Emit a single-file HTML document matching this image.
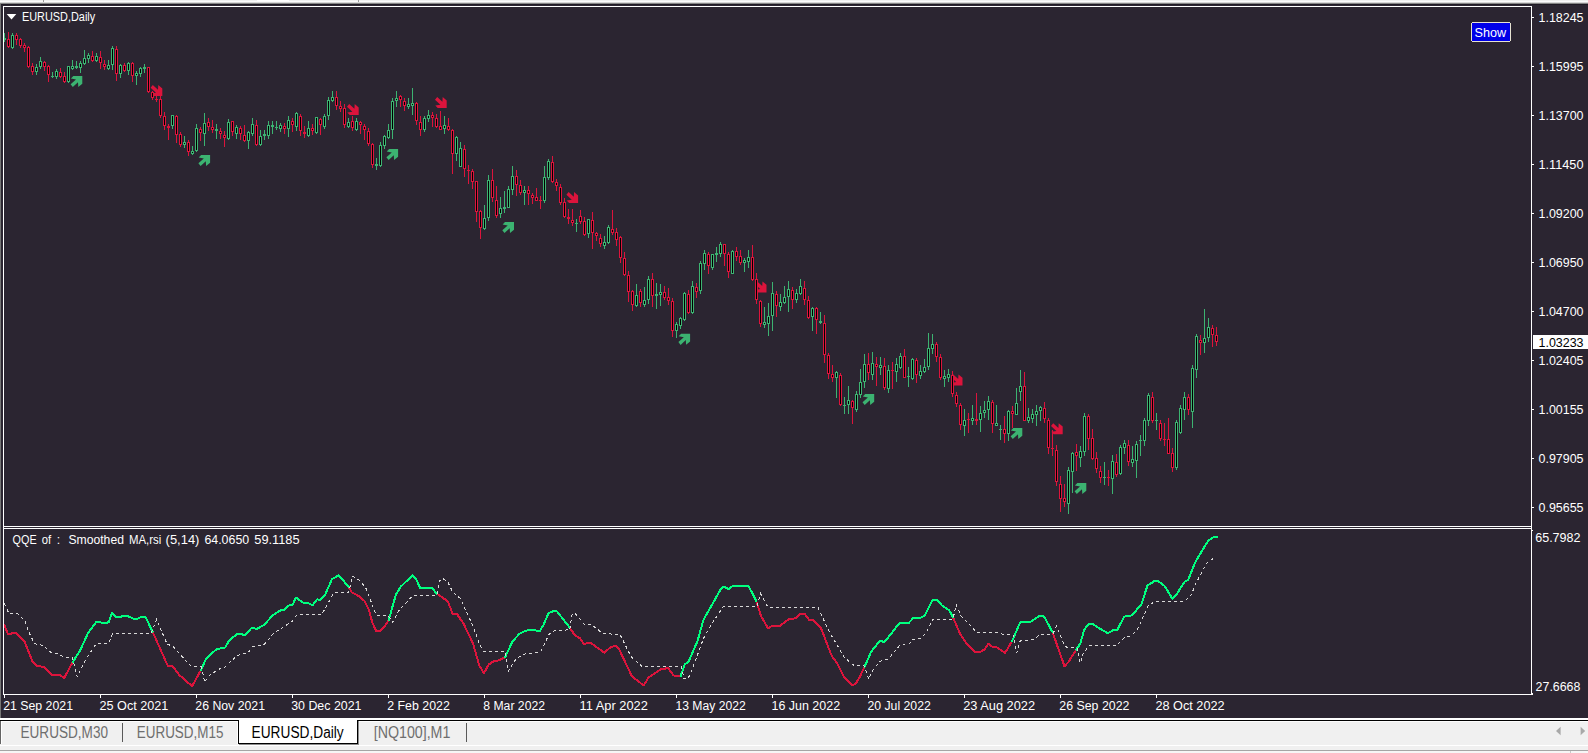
<!DOCTYPE html>
<html lang="en"><head><meta charset="utf-8"><title>EURUSD,Daily</title>
<style>html,body{margin:0;padding:0;background:#f0f0f0;overflow:hidden}svg{display:block}text{font-family:"Liberation Sans",sans-serif}</style>
</head><body>
<svg width="1588" height="753" viewBox="0 0 1588 753">
<rect x="0" y="0" width="1588" height="718" fill="#2b2531"/>
<g shape-rendering="crispEdges">
<rect x="0" y="0" width="1588" height="1" fill="#f0f0f0"/>
<rect x="0" y="1" width="1588" height="1" fill="#fbfbfb"/>
<rect x="0" y="2" width="1588" height="1" fill="#d6d6d6"/>
<rect x="0" y="3" width="1588" height="1" fill="#848484"/>
<rect x="0" y="4" width="1588" height="1" fill="#1f1a25"/>
<rect x="257" y="0" width="32" height="1" fill="#ffffff"/>
<rect x="43" y="0" width="1" height="2" fill="#9a9a9a"/>
<rect x="358" y="0" width="1" height="2" fill="#9a9a9a"/>
<rect x="0" y="4" width="1" height="714" fill="#757575"/>
</g>
<path fill="#3cb371" d="M73.3 76.0L82.3 76.0L82.3 83.7L78.3 87.0L78.0 82.3L72.8 87.1L70.6 84.3L76.0 79.4L70.9 78.5zM201.1 155.0L210.1 155.0L210.1 162.7L206.1 166.0L205.8 161.3L200.6 166.1L198.4 163.3L203.8 158.4L198.7 157.5zM389.1 149.0L398.1 149.0L398.1 156.7L394.1 160.0L393.8 155.3L388.6 160.1L386.4 157.3L391.8 152.4L386.7 151.5zM505.0 222.0L514.0 222.0L514.0 229.7L510.0 233.0L509.7 228.3L504.5 233.1L502.3 230.3L507.7 225.4L502.6 224.5zM681.1 333.8L690.1 333.8L690.1 341.5L686.1 344.8L685.8 340.1L680.6 344.9L678.4 342.1L683.8 337.2L678.7 336.3zM865.2 394.0L874.2 394.0L874.2 401.7L870.2 405.0L869.9 400.3L864.7 405.1L862.5 402.3L867.9 397.4L862.8 396.5zM1013.3 428.0L1022.3 428.0L1022.3 435.7L1018.3 439.0L1018.0 434.3L1012.8 439.1L1010.6 436.3L1016.0 431.4L1010.9 430.5zM1077.3 483.0L1086.3 483.0L1086.3 490.7L1082.3 494.0L1082.0 489.3L1076.8 494.1L1074.6 491.3L1080.0 486.4L1074.9 485.5z"/>
<path fill="#dc143c" d="M153.3 96.1L162.3 96.1L162.3 88.4L158.3 85.1L158.0 89.8L152.8 85.0L150.6 87.8L156.0 92.7L150.9 93.6zM349.7 115.1L358.7 115.1L358.7 107.4L354.7 104.1L354.4 108.8L349.2 104.0L347.0 106.8L352.4 111.7L347.3 112.6zM437.7 108.1L446.7 108.1L446.7 100.4L442.7 97.1L442.4 101.8L437.2 97.0L435.0 99.8L440.4 104.7L435.3 105.6zM569.1 203.1L578.1 203.1L578.1 195.4L574.1 192.1L573.8 196.8L568.6 192.0L566.4 194.8L571.8 199.7L566.7 200.6zM757.5 292.4L766.5 292.4L766.5 284.7L762.5 281.4L762.2 286.1L757.0 281.3L754.8 284.1L760.2 289.0L755.1 289.9zM953.5 385.4L962.5 385.4L962.5 377.7L958.5 374.4L958.2 379.1L953.0 374.3L950.8 377.1L956.2 382.0L951.1 382.9zM1053.7 434.3L1062.7 434.3L1062.7 426.6L1058.7 423.3L1058.4 428.0L1053.2 423.2L1051.0 426.0L1056.4 430.9L1051.3 431.8z"/>
<g shape-rendering="crispEdges">
<path fill="#3cb371" d="M4 33h1v9h-1zM3 38h3v2h-3zM12 33h1v16h-1zM11 35h3v13h-3zM36 64h1v11h-1zM35 67h3v5h-3zM40 57h1v12h-1zM39 61h3v6h-3zM52 72h1v6h-1zM51 76h3v1h-3zM56 69h1v10h-1zM55 71h3v6h-3zM68 66h1v17h-1zM67 66h3v16h-3zM72 60h1v10h-1zM71 66h3v3h-3zM76 61h1v8h-1zM75 66h3v2h-3zM80 61h1v12h-1zM79 63h3v5h-3zM84 50h1v15h-1zM83 58h3v6h-3zM88 53h1v10h-1zM87 55h3v4h-3zM96 53h1v9h-1zM95 56h3v5h-3zM108 60h1v10h-1zM107 65h3v4h-3zM112 46h1v24h-1zM111 48h3v17h-3zM120 64h1v14h-1zM119 65h3v9h-3zM128 62h1v13h-1zM127 63h3v8h-3zM136 71h1v14h-1zM135 73h3v3h-3zM140 67h1v10h-1zM139 68h3v6h-3zM144 64h1v9h-1zM143 67h3v2h-3zM172 115h1v14h-1zM171 115h3v11h-3zM184 136h1v12h-1zM183 142h3v3h-3zM192 146h1v9h-1zM191 151h3v3h-3zM196 124h1v28h-1zM195 128h3v23h-3zM204 113h1v33h-1zM203 123h3v11h-3zM216 124h1v15h-1zM215 129h3v2h-3zM228 119h1v21h-1zM227 122h3v17h-3zM236 125h1v14h-1zM235 127h3v7h-3zM248 131h1v18h-1zM247 132h3v9h-3zM252 118h1v18h-1zM251 124h3v10h-3zM260 130h1v16h-1zM259 136h3v9h-3zM264 130h1v10h-1zM263 134h3v2h-3zM268 121h1v18h-1zM267 125h3v11h-3zM272 121h1v13h-1zM271 125h3v2h-3zM276 121h1v9h-1zM275 127h3v1h-3zM280 123h1v9h-1zM279 125h3v4h-3zM288 116h1v21h-1zM287 120h3v9h-3zM296 112h1v19h-1zM295 113h3v14h-3zM308 121h1v16h-1zM307 128h3v8h-3zM316 117h1v17h-1zM315 117h3v16h-3zM324 114h1v15h-1zM323 116h3v11h-3zM328 97h1v23h-1zM327 100h3v16h-3zM332 91h1v11h-1zM331 97h3v4h-3zM348 118h1v10h-1zM347 122h3v5h-3zM356 118h1v13h-1zM355 121h3v9h-3zM376 158h1v12h-1zM375 164h3v2h-3zM380 142h1v25h-1zM379 145h3v21h-3zM384 135h1v14h-1zM383 136h3v10h-3zM388 124h1v15h-1zM387 130h3v8h-3zM392 98h1v41h-1zM391 101h3v29h-3zM396 91h1v16h-1zM395 98h3v3h-3zM408 98h1v11h-1zM407 104h3v3h-3zM412 88h1v27h-1zM411 103h3v3h-3zM424 116h1v16h-1zM423 118h3v12h-3zM428 110h1v12h-1zM427 115h3v4h-3zM444 116h1v18h-1zM443 125h3v4h-3zM456 136h1v25h-1zM455 137h3v17h-3zM460 142h1v25h-1zM459 148h3v19h-3zM484 205h1v25h-1zM483 218h3v11h-3zM488 175h1v46h-1zM487 180h3v38h-3zM500 197h1v21h-1zM499 208h3v6h-3zM504 191h1v22h-1zM503 207h3v2h-3zM508 186h1v22h-1zM507 189h3v19h-3zM512 166h1v29h-1zM511 176h3v14h-3zM524 186h1v19h-1zM523 190h3v3h-3zM544 166h1v37h-1zM543 177h3v24h-3zM548 159h1v21h-1zM547 161h3v17h-3zM576 219h1v13h-1zM575 223h3v1h-3zM588 219h1v19h-1zM587 219h3v15h-3zM604 236h1v13h-1zM603 242h3v4h-3zM608 225h1v19h-1zM607 227h3v16h-3zM636 284h1v23h-1zM635 295h3v11h-3zM644 287h1v20h-1zM643 300h3v5h-3zM648 276h1v28h-1zM647 279h3v21h-3zM656 283h1v26h-1zM655 294h3v2h-3zM660 284h1v22h-1zM659 292h3v3h-3zM676 322h1v16h-1zM675 324h3v7h-3zM680 317h1v12h-1zM679 318h3v8h-3zM684 292h1v29h-1zM683 293h3v27h-3zM692 281h1v33h-1zM691 286h3v27h-3zM700 261h1v33h-1zM699 263h3v28h-3zM704 250h1v20h-1zM703 253h3v11h-3zM712 254h1v16h-1zM711 254h3v14h-3zM716 247h1v15h-1zM715 253h3v2h-3zM720 242h1v15h-1zM719 244h3v10h-3zM732 250h1v24h-1zM731 251h3v23h-3zM744 258h1v14h-1zM743 260h3v3h-3zM748 250h1v18h-1zM747 257h3v5h-3zM764 307h1v21h-1zM763 322h3v3h-3zM768 303h1v33h-1zM767 316h3v8h-3zM772 282h1v49h-1zM771 293h3v23h-3zM780 294h1v17h-1zM779 302h3v5h-3zM784 286h1v18h-1zM783 297h3v6h-3zM788 281h1v31h-1zM787 289h3v8h-3zM796 289h1v14h-1zM795 293h3v7h-3zM800 279h1v16h-1zM799 286h3v8h-3zM812 307h1v24h-1zM811 308h3v9h-3zM820 312h1v12h-1zM819 321h3v2h-3zM836 371h1v27h-1zM835 372h3v6h-3zM844 397h1v17h-1zM843 405h3v1h-3zM848 386h1v28h-1zM847 400h3v5h-3zM856 391h1v21h-1zM855 394h3v16h-3zM860 369h1v29h-1zM859 382h3v13h-3zM864 354h1v34h-1zM863 364h3v18h-3zM872 352h1v28h-1zM871 363h3v12h-3zM880 357h1v18h-1zM879 365h3v3h-3zM888 365h1v28h-1zM887 370h3v19h-3zM896 358h1v24h-1zM895 364h3v8h-3zM900 353h1v16h-1zM899 356h3v12h-3zM908 367h1v20h-1zM907 376h3v1h-3zM912 358h1v22h-1zM911 359h3v20h-3zM920 365h1v14h-1zM919 371h3v5h-3zM924 359h1v14h-1zM923 367h3v5h-3zM928 333h1v37h-1zM927 348h3v19h-3zM932 334h1v20h-1zM931 344h3v5h-3zM944 370h1v17h-1zM943 376h3v3h-3zM948 369h1v13h-1zM947 374h3v4h-3zM964 409h1v27h-1zM963 420h3v6h-3zM972 405h1v20h-1zM971 418h3v3h-3zM980 406h1v26h-1zM979 413h3v7h-3zM984 401h1v17h-1zM983 410h3v3h-3zM988 396h1v24h-1zM987 401h3v9h-3zM996 405h1v21h-1zM995 423h3v3h-3zM1000 425h1v15h-1zM999 429h3v1h-3zM1008 410h1v31h-1zM1007 411h3v23h-3zM1016 388h1v27h-1zM1015 403h3v12h-3zM1020 370h1v31h-1zM1019 386h3v6h-3zM1028 408h1v15h-1zM1027 417h3v4h-3zM1032 409h1v14h-1zM1031 414h3v5h-3zM1036 405h1v21h-1zM1035 411h3v4h-3zM1040 406h1v15h-1zM1039 407h3v4h-3zM1068 467h1v47h-1zM1067 470h3v34h-3zM1072 452h1v41h-1zM1071 453h3v19h-3zM1080 446h1v21h-1zM1079 451h3v7h-3zM1084 413h1v43h-1zM1083 416h3v36h-3zM1104 462h1v23h-1zM1103 477h3v1h-3zM1112 455h1v39h-1zM1111 461h3v18h-3zM1120 445h1v30h-1zM1119 447h3v27h-3zM1124 440h1v14h-1zM1123 443h3v5h-3zM1132 446h1v21h-1zM1131 459h3v4h-3zM1136 441h1v37h-1zM1135 444h3v17h-3zM1140 435h1v21h-1zM1139 440h3v1h-3zM1144 418h1v28h-1zM1143 420h3v21h-3zM1148 393h1v33h-1zM1147 395h3v26h-3zM1156 413h1v17h-1zM1155 420h3v1h-3zM1176 420h1v50h-1zM1175 422h3v46h-3zM1180 405h1v29h-1zM1179 408h3v25h-3zM1184 392h1v28h-1zM1183 397h3v13h-3zM1192 365h1v63h-1zM1191 368h3v44h-3zM1196 334h1v44h-1zM1195 336h3v34h-3zM1204 309h1v44h-1zM1203 338h3v5h-3zM1208 318h1v24h-1zM1207 327h3v11h-3z"/>
<path fill="#dc143c" d="M8 32h1v16h-1zM7 39h3v8h-3zM16 33h1v12h-1zM15 35h3v5h-3zM20 38h1v10h-1zM19 39h3v7h-3zM24 43h1v9h-1zM23 45h3v3h-3zM28 46h1v22h-1zM27 47h3v20h-3zM32 63h1v12h-1zM31 66h3v6h-3zM44 61h1v10h-1zM43 62h3v5h-3zM48 65h1v17h-1zM47 66h3v9h-3zM60 68h1v10h-1zM59 72h3v5h-3zM64 72h1v11h-1zM63 76h3v6h-3zM92 51h1v11h-1zM91 56h3v5h-3zM100 51h1v18h-1zM99 57h3v6h-3zM104 60h1v10h-1zM103 64h3v3h-3zM116 46h1v35h-1zM115 49h3v25h-3zM124 63h1v9h-1zM123 65h3v6h-3zM132 62h1v20h-1zM131 63h3v13h-3zM148 67h1v26h-1zM147 67h3v25h-3zM152 91h1v9h-1zM151 92h3v6h-3zM156 96h1v6h-1zM155 99h3v1h-3zM160 96h1v22h-1zM159 99h3v17h-3zM164 112h1v18h-1zM163 116h3v10h-3zM168 124h1v16h-1zM167 126h3v2h-3zM176 115h1v28h-1zM175 116h3v19h-3zM180 132h1v15h-1zM179 134h3v11h-3zM188 140h1v16h-1zM187 142h3v10h-3zM200 127h1v14h-1zM199 129h3v4h-3zM208 118h1v13h-1zM207 122h3v5h-3zM212 120h1v13h-1zM211 127h3v3h-3zM220 128h1v11h-1zM219 131h3v3h-3zM224 131h1v16h-1zM223 135h3v3h-3zM232 121h1v15h-1zM231 121h3v11h-3zM240 126h1v14h-1zM239 128h3v6h-3zM244 125h1v17h-1zM243 135h3v6h-3zM256 120h1v26h-1zM255 125h3v20h-3zM284 123h1v11h-1zM283 126h3v3h-3zM292 118h1v14h-1zM291 121h3v4h-3zM300 114h1v22h-1zM299 116h3v15h-3zM304 126h1v12h-1zM303 132h3v2h-3zM312 124h1v11h-1zM311 128h3v3h-3zM320 118h1v17h-1zM319 119h3v6h-3zM336 91h1v19h-1zM335 97h3v9h-3zM340 101h1v11h-1zM339 106h3v3h-3zM344 104h1v24h-1zM343 108h3v17h-3zM352 116h1v15h-1zM351 121h3v7h-3zM360 121h1v13h-1zM359 122h3v3h-3zM364 124h1v16h-1zM363 126h3v4h-3zM368 128h1v18h-1zM367 131h3v13h-3zM372 143h1v25h-1zM371 144h3v21h-3zM400 95h1v12h-1zM399 96h3v4h-3zM404 98h1v13h-1zM403 101h3v5h-3zM416 102h1v23h-1zM415 103h3v18h-3zM420 116h1v20h-1zM419 122h3v8h-3zM432 112h1v15h-1zM431 115h3v3h-3zM436 114h1v14h-1zM435 118h3v9h-3zM440 111h1v19h-1zM439 126h3v4h-3zM448 118h1v13h-1zM447 126h3v4h-3zM452 129h1v45h-1zM451 130h3v24h-3zM464 145h1v32h-1zM463 149h3v20h-3zM468 165h1v19h-1zM467 170h3v1h-3zM472 169h1v20h-1zM471 171h3v11h-3zM476 181h1v41h-1zM475 181h3v31h-3zM480 210h1v29h-1zM479 211h3v17h-3zM492 169h1v33h-1zM491 180h3v18h-3zM496 186h1v32h-1zM495 200h3v16h-3zM516 170h1v26h-1zM515 176h3v9h-3zM520 180h1v15h-1zM519 185h3v8h-3zM528 186h1v19h-1zM527 190h3v4h-3zM532 193h1v11h-1zM531 195h3v3h-3zM536 188h1v13h-1zM535 197h3v4h-3zM540 196h1v13h-1zM539 200h3v1h-3zM552 156h1v27h-1zM551 162h3v20h-3zM556 179h1v12h-1zM555 182h3v4h-3zM560 184h1v21h-1zM559 187h3v16h-3zM564 198h1v20h-1zM563 202h3v15h-3zM568 209h1v15h-1zM567 217h3v2h-3zM572 209h1v17h-1zM571 220h3v3h-3zM580 210h1v14h-1zM579 216h3v6h-3zM584 217h1v19h-1zM583 221h3v14h-3zM592 212h1v37h-1zM591 220h3v13h-3zM596 232h1v9h-1zM595 233h3v3h-3zM600 234h1v13h-1zM599 238h3v6h-3zM612 210h1v25h-1zM611 229h3v4h-3zM616 228h1v18h-1zM615 232h3v8h-3zM620 236h1v27h-1zM619 237h3v21h-3zM624 252h1v24h-1zM623 258h3v17h-3zM628 271h1v31h-1zM627 275h3v17h-3zM632 290h1v21h-1zM631 291h3v14h-3zM640 289h1v18h-1zM639 291h3v12h-3zM652 273h1v34h-1zM651 279h3v17h-3zM664 286h1v14h-1zM663 292h3v6h-3zM668 288h1v17h-1zM667 297h3v4h-3zM672 298h1v39h-1zM671 301h3v30h-3zM688 290h1v24h-1zM687 294h3v19h-3zM696 283h1v15h-1zM695 287h3v5h-3zM708 252h1v22h-1zM707 254h3v12h-3zM724 244h1v22h-1zM723 244h3v10h-3zM728 252h1v26h-1zM727 254h3v18h-3zM736 247h1v14h-1zM735 251h3v6h-3zM740 250h1v15h-1zM739 256h3v7h-3zM752 245h1v36h-1zM751 257h3v23h-3zM756 273h1v31h-1zM755 279h3v21h-3zM760 300h1v27h-1zM759 301h3v23h-3zM776 291h1v26h-1zM775 294h3v12h-3zM792 287h1v22h-1zM791 290h3v10h-3zM804 281h1v24h-1zM803 288h3v12h-3zM808 296h1v23h-1zM807 300h3v18h-3zM816 307h1v27h-1zM815 308h3v12h-3zM824 315h1v48h-1zM823 323h3v32h-3zM828 353h1v26h-1zM827 355h3v19h-3zM832 365h1v17h-1zM831 374h3v4h-3zM840 373h1v33h-1zM839 375h3v30h-3zM852 400h1v24h-1zM851 401h3v7h-3zM868 353h1v27h-1zM867 364h3v9h-3zM876 357h1v29h-1zM875 364h3v3h-3zM884 358h1v32h-1zM883 366h3v22h-3zM892 362h1v27h-1zM891 370h3v1h-3zM904 349h1v29h-1zM903 356h3v22h-3zM916 358h1v25h-1zM915 360h3v15h-3zM936 342h1v20h-1zM935 344h3v13h-3zM940 354h1v26h-1zM939 357h3v21h-3zM952 371h1v26h-1zM951 375h3v19h-3zM956 392h1v15h-1zM955 395h3v9h-3zM960 403h1v27h-1zM959 405h3v20h-3zM968 413h1v20h-1zM967 419h3v1h-3zM976 393h1v32h-1zM975 419h3v2h-3zM992 400h1v33h-1zM991 402h3v22h-3zM1004 416h1v27h-1zM1003 429h3v5h-3zM1012 406h1v22h-1zM1011 411h3v3h-3zM1024 372h1v49h-1zM1023 386h3v35h-3zM1044 402h1v21h-1zM1043 408h3v11h-3zM1048 418h1v36h-1zM1047 420h3v28h-3zM1052 430h1v26h-1zM1051 448h3v1h-3zM1056 445h1v41h-1zM1055 450h3v32h-3zM1060 476h1v36h-1zM1059 484h3v15h-3zM1064 484h1v23h-1zM1063 498h3v4h-3zM1076 444h1v27h-1zM1075 452h3v4h-3zM1088 414h1v36h-1zM1087 416h3v23h-3zM1092 429h1v31h-1zM1091 438h3v21h-3zM1096 452h1v21h-1zM1095 458h3v11h-3zM1100 466h1v17h-1zM1099 471h3v7h-3zM1108 470h1v16h-1zM1107 477h3v1h-3zM1116 454h1v23h-1zM1115 462h3v13h-3zM1128 440h1v26h-1zM1127 445h3v17h-3zM1152 392h1v31h-1zM1151 397h3v24h-3zM1160 420h1v21h-1zM1159 423h3v16h-3zM1164 423h1v23h-1zM1163 439h3v1h-3zM1168 418h1v36h-1zM1167 439h3v15h-3zM1172 448h1v24h-1zM1171 453h3v15h-3zM1188 394h1v21h-1zM1187 397h3v13h-3zM1200 335h1v20h-1zM1199 340h3v3h-3zM1212 325h1v22h-1zM1211 328h3v7h-3zM1216 327h1v19h-1zM1215 335h3v7h-3z"/>
<path fill="#000000" d="M8 40h1v6h-1zM12 36h1v11h-1zM16 36h1v3h-1zM20 40h1v5h-1zM24 46h1v1h-1zM28 48h1v18h-1zM32 67h1v4h-1zM36 68h1v3h-1zM40 62h1v4h-1zM44 63h1v3h-1zM48 67h1v7h-1zM56 72h1v4h-1zM60 73h1v3h-1zM64 77h1v4h-1zM68 67h1v14h-1zM72 67h1v1h-1zM80 64h1v3h-1zM84 59h1v4h-1zM88 56h1v2h-1zM92 57h1v3h-1zM96 57h1v3h-1zM100 58h1v4h-1zM104 65h1v1h-1zM108 66h1v2h-1zM112 49h1v15h-1zM116 50h1v23h-1zM120 66h1v7h-1zM124 66h1v4h-1zM128 64h1v6h-1zM132 64h1v11h-1zM136 74h1v1h-1zM140 69h1v4h-1zM148 68h1v23h-1zM152 93h1v4h-1zM160 100h1v15h-1zM164 117h1v8h-1zM172 116h1v9h-1zM176 117h1v17h-1zM180 135h1v9h-1zM184 143h1v1h-1zM188 143h1v8h-1zM192 152h1v1h-1zM196 129h1v21h-1zM200 130h1v2h-1zM204 124h1v9h-1zM208 123h1v3h-1zM212 128h1v1h-1zM220 132h1v1h-1zM224 136h1v1h-1zM228 123h1v15h-1zM232 122h1v9h-1zM236 128h1v5h-1zM240 129h1v4h-1zM244 136h1v4h-1zM248 133h1v7h-1zM252 125h1v8h-1zM256 126h1v18h-1zM260 137h1v7h-1zM268 126h1v9h-1zM280 126h1v2h-1zM284 127h1v1h-1zM288 121h1v7h-1zM292 122h1v2h-1zM296 114h1v12h-1zM300 117h1v13h-1zM308 129h1v6h-1zM312 129h1v1h-1zM316 118h1v14h-1zM320 120h1v4h-1zM324 117h1v9h-1zM328 101h1v14h-1zM332 98h1v2h-1zM336 98h1v7h-1zM340 107h1v1h-1zM344 109h1v15h-1zM348 123h1v3h-1zM352 122h1v5h-1zM356 122h1v7h-1zM360 123h1v1h-1zM364 127h1v2h-1zM368 132h1v11h-1zM372 145h1v19h-1zM380 146h1v19h-1zM384 137h1v8h-1zM388 131h1v6h-1zM392 102h1v27h-1zM396 99h1v1h-1zM400 97h1v2h-1zM404 102h1v3h-1zM408 105h1v1h-1zM412 104h1v1h-1zM416 104h1v16h-1zM420 123h1v6h-1zM424 119h1v10h-1zM428 116h1v2h-1zM432 116h1v1h-1zM436 119h1v7h-1zM440 127h1v2h-1zM444 126h1v2h-1zM448 127h1v2h-1zM452 131h1v22h-1zM456 138h1v15h-1zM460 149h1v17h-1zM464 150h1v18h-1zM472 172h1v9h-1zM476 182h1v29h-1zM480 212h1v15h-1zM484 219h1v9h-1zM488 181h1v36h-1zM492 181h1v16h-1zM496 201h1v14h-1zM500 209h1v4h-1zM508 190h1v17h-1zM512 177h1v12h-1zM516 177h1v7h-1zM520 186h1v6h-1zM524 191h1v1h-1zM528 191h1v2h-1zM532 196h1v1h-1zM536 198h1v2h-1zM544 178h1v22h-1zM548 162h1v15h-1zM552 163h1v18h-1zM556 183h1v2h-1zM560 188h1v14h-1zM564 203h1v13h-1zM572 221h1v1h-1zM580 217h1v4h-1zM584 222h1v12h-1zM588 220h1v13h-1zM592 221h1v11h-1zM596 234h1v1h-1zM600 239h1v4h-1zM604 243h1v2h-1zM608 228h1v14h-1zM612 230h1v2h-1zM616 233h1v6h-1zM620 238h1v19h-1zM624 259h1v15h-1zM628 276h1v15h-1zM632 292h1v12h-1zM636 296h1v9h-1zM640 292h1v10h-1zM644 301h1v3h-1zM648 280h1v19h-1zM652 280h1v15h-1zM660 293h1v1h-1zM664 293h1v4h-1zM668 298h1v2h-1zM672 302h1v28h-1zM676 325h1v5h-1zM680 319h1v6h-1zM684 294h1v25h-1zM688 295h1v17h-1zM692 287h1v25h-1zM696 288h1v3h-1zM700 264h1v26h-1zM704 254h1v9h-1zM708 255h1v10h-1zM712 255h1v12h-1zM720 245h1v8h-1zM724 245h1v8h-1zM728 255h1v16h-1zM732 252h1v21h-1zM736 252h1v4h-1zM740 257h1v5h-1zM744 261h1v1h-1zM748 258h1v3h-1zM752 258h1v21h-1zM756 280h1v19h-1zM760 302h1v21h-1zM764 323h1v1h-1zM768 317h1v6h-1zM772 294h1v21h-1zM776 295h1v10h-1zM780 303h1v3h-1zM784 298h1v4h-1zM788 290h1v6h-1zM792 291h1v8h-1zM796 294h1v5h-1zM800 287h1v6h-1zM804 289h1v10h-1zM808 301h1v16h-1zM812 309h1v7h-1zM816 309h1v10h-1zM824 324h1v30h-1zM828 356h1v17h-1zM832 375h1v2h-1zM836 373h1v4h-1zM840 376h1v28h-1zM848 401h1v3h-1zM852 402h1v5h-1zM856 395h1v14h-1zM860 383h1v11h-1zM864 365h1v16h-1zM868 365h1v7h-1zM872 364h1v10h-1zM876 365h1v1h-1zM880 366h1v1h-1zM884 367h1v20h-1zM888 371h1v17h-1zM896 365h1v6h-1zM900 357h1v10h-1zM904 357h1v20h-1zM912 360h1v18h-1zM916 361h1v13h-1zM920 372h1v3h-1zM924 368h1v3h-1zM928 349h1v17h-1zM932 345h1v3h-1zM936 345h1v11h-1zM940 358h1v19h-1zM944 377h1v1h-1zM948 375h1v2h-1zM952 376h1v17h-1zM956 396h1v7h-1zM960 406h1v18h-1zM964 421h1v4h-1zM972 419h1v1h-1zM980 414h1v5h-1zM984 411h1v1h-1zM988 402h1v7h-1zM992 403h1v20h-1zM996 424h1v1h-1zM1004 430h1v3h-1zM1008 412h1v21h-1zM1012 412h1v1h-1zM1016 404h1v10h-1zM1020 387h1v4h-1zM1024 387h1v33h-1zM1028 418h1v2h-1zM1032 415h1v3h-1zM1036 412h1v2h-1zM1040 408h1v2h-1zM1044 409h1v9h-1zM1048 421h1v26h-1zM1056 451h1v30h-1zM1060 485h1v13h-1zM1064 499h1v2h-1zM1068 471h1v32h-1zM1072 454h1v17h-1zM1076 453h1v2h-1zM1080 452h1v5h-1zM1084 417h1v34h-1zM1088 417h1v21h-1zM1092 439h1v19h-1zM1096 459h1v9h-1zM1100 472h1v5h-1zM1112 462h1v16h-1zM1116 463h1v11h-1zM1120 448h1v25h-1zM1124 444h1v3h-1zM1128 446h1v15h-1zM1132 460h1v2h-1zM1136 445h1v15h-1zM1144 421h1v19h-1zM1148 396h1v24h-1zM1152 398h1v22h-1zM1160 424h1v14h-1zM1168 440h1v13h-1zM1172 454h1v13h-1zM1176 423h1v44h-1zM1180 409h1v23h-1zM1184 398h1v11h-1zM1188 398h1v11h-1zM1192 369h1v42h-1zM1196 337h1v32h-1zM1200 341h1v1h-1zM1204 339h1v3h-1zM1208 328h1v9h-1zM1212 329h1v5h-1zM1216 336h1v5h-1z"/>
</g>
<g fill="none" stroke-width="2" stroke-linejoin="round" stroke-linecap="round" shape-rendering="crispEdges">
<path stroke="#dc143c" d="M4.4 624.8L7.9 634.2L15.7 632.7L24.4 641.3L32.3 661.0L36.2 665.7L44.1 667.0L52.0 674.9L59.8 674.9L64.2 678.0L72.9 661.8M152.7 631.9L167.7 665.7L172.4 666.0L179.5 675.2L192.1 686.2L200.7 670.5M348.6 586.8L351.8 592.3L359.6 596.5L364.4 600.9L369.1 610.4L372.2 622.2L376.2 631.2L380.1 631.2L384.8 626.1L388.8 619.8M436.8 593.8L447.8 601.2L452.5 613.5L457.2 614.3L463.6 623.8L473.0 643.4L479.3 665.5L483.9 673.2L488.7 664.5L494.2 660.9L498.1 660.6L505.2 657.1M569.0 626.7L575.2 635.7L580.0 638.2L583.9 644.1L590.2 642.5L604.4 652.7L609.9 647.7L615.4 645.6L619.3 649.6L631.9 676.3L643.7 685.5L648.5 677.6L661.0 669.2L668.1 668.1L673.6 675.5L680.7 676.0M756.2 600.8L760.9 615.7L768.0 628.3L772.7 625.6L779.8 626.0L789.3 618.9L795.6 618.4L800.3 614.1L805.0 614.1L808.9 619.7L812.9 620.0L820.8 627.5L828.6 648.0L831.8 655.9L836.5 662.2L843.6 676.3L852.2 685.0L855.4 684.2L860.1 676.3L864.5 666.9M953.0 617.3L960.1 633.8L966.6 643.5L975.2 652.1L979.8 652.1L984.5 649.5L988.4 643.8L992.4 646.8L997.7 647.7L1005.0 653.0L1012.2 640.9M1052.6 632.3L1064.5 666.3L1068.4 662.0L1076.4 649.5"/>
<path stroke="#00ff7f" d="M72.9 661.8L80.3 650.0L88.2 632.7L96.3 622.0L103.9 622.9L108.6 622.4L112.1 613.0L115.7 616.9L127.5 616.1L133.8 618.8L137.8 618.5L141.7 616.9L145.6 617.2L152.7 631.9M200.7 670.5L206.2 658.6L216.5 649.2L225.1 647.6L229.1 640.5L236.9 634.2L240.0 633.7L244.7 635.3L251.8 627.7L256.5 629.0L263.6 625.3L273.1 615.1L280.9 610.1L284.1 610.1L289.6 604.9L292.7 604.9L295.9 597.5L303.0 602.5L307.7 602.8L312.4 605.3L317.1 599.4L320.3 599.7L325.0 595.0L332.1 578.9L338.9 575.4L348.6 586.8M388.8 619.8L395.9 594.6L400.6 586.8L412.4 575.4L416.3 579.7L420.3 588.0L432.1 588.0L436.8 593.8M505.2 657.1L512.3 641.7L519.4 633.8L525.7 630.7L532.0 629.9L539.8 631.0L543.8 624.4L548.5 613.0L554.0 611.0L557.1 611.5L569.0 626.7M680.7 676.0L684.7 664.5L688.6 661.4L697.3 641.7L703.5 619.7L720.9 589.0L723.9 586.6L728.7 589.0L733.4 585.5L748.3 585.5L756.2 600.8M864.5 666.9L871.1 651.9L879.8 640.9L884.5 642.0L899.5 623.1L908.9 622.8L912.9 618.4L919.9 618.1L924.7 615.7L932.5 600.0L937.3 599.7L942.0 605.5L949.1 610.2L953.0 617.3M1012.2 640.9L1020.2 622.3L1030.1 622.1L1040.0 615.7L1044.0 616.4L1052.6 632.3M1076.4 649.5L1080.3 643.5L1084.3 629.6L1088.9 623.7L1092.2 623.7L1100.0 628.7L1107.8 633.2L1113.8 629.8L1117.3 629.8L1124.2 616.7L1131.9 615.4L1141.4 604.2L1147.5 585.6L1155.2 580.6L1157.8 580.9L1164.7 586.1L1172.5 599.0L1176.0 595.3L1184.6 581.8L1188.0 580.1L1195.8 561.1L1207.9 541.2L1213.1 537.3L1217.0 536.9"/>
</g>
<path fill="none" stroke="#d8d8d8" stroke-width="1" stroke-dasharray="3 3" shape-rendering="crispEdges" d="M4.4 603.5L8.7 613.0L17.3 613.5L25.2 620.9L28.3 631.1L34.6 643.7L42.5 645.3L52.0 653.1L58.3 653.5L64.5 657.5L72.4 657.9L77.1 676.8L86.6 657.9L96.0 644.0L108.6 643.4L112.6 633.9L151.1 633.5L156.6 619.3L166.9 643.7L173.2 646.8L191.3 666.5L201.5 667.0L204.7 682.3L209.4 675.2L219.6 668.9L225.1 667.0L236.1 656.3L240.0 654.5L247.9 652.9L252.6 646.6L263.6 645.0L273.8 633.2L292.0 621.4L296.7 614.8L321.9 614.3L333.7 593.1L348.6 592.3L352.6 576.2L359.6 580.2L365.9 588.3L376.2 615.1L388.0 615.4L392.7 622.2L399.0 610.4L412.4 595.9L436.8 595.4L439.1 581.3L443.1 578.6L447.8 582.0L452.5 591.5L460.4 598.6L473.0 626.1L480.0 645.6L483.9 651.5L505.2 651.5L508.3 671.6L514.6 660.6L522.5 654.3L540.6 651.9L549.3 633.8L554.8 630.4L569.7 629.9L572.1 614.1L575.2 613.4L583.9 624.1L591.8 624.7L602.8 633.5L620.1 634.6L631.1 656.7L642.2 666.6L681.5 666.6L683.9 678.7L687.8 679.2L692.5 668.5L703.5 638.5L711.4 624.4L722.4 607.8L723.1 606.7L757.0 606.3L760.6 593.7L768.0 607.4L818.0 607.5L829.5 632.3L844.4 657.4L853.8 665.3L864.0 665.6L868.8 679.2L871.9 671.6L879.8 661.4L888.4 659.0L899.5 645.6L908.9 644.1L912.9 639.3L921.5 638.2L926.2 632.3L932.5 619.7L953.0 619.3L956.1 604.7L960.9 615.7L977.2 632.7L998.3 632.7L1003.6 634.5L1012.9 634.5L1016.9 652.8L1020.2 640.9L1033.4 639.5L1040.0 634.5L1052.6 634.3L1056.5 626.3L1064.5 645.5L1067.1 647.5L1077.0 647.7L1080.3 663.3L1083.0 654.1L1088.9 645.5L1100.0 645.1L1117.3 645.1L1123.3 638.4L1131.9 635.3L1138.0 628.4L1144.9 612.9L1148.3 605.1L1156.1 601.3L1184.6 601.3L1191.5 594.7L1194.9 585.2L1207.0 562.8L1213.1 558.5L1216.0 558.1"/>
<g shape-rendering="crispEdges" fill="#ffffff">
<rect x="3" y="6" width="1529" height="1"/>
<rect x="3" y="526" width="1529" height="1"/>
<rect x="3" y="528" width="1529" height="1"/>
<rect x="3" y="694" width="1530" height="1"/>
<rect x="3" y="6" width="1" height="689"/>
<rect x="1531" y="6" width="1" height="689"/>
<rect x="1532" y="17" width="2" height="1"/>
<rect x="1532" y="66" width="2" height="1"/>
<rect x="1532" y="115" width="2" height="1"/>
<rect x="1532" y="164" width="2" height="1"/>
<rect x="1532" y="213" width="2" height="1"/>
<rect x="1532" y="262" width="2" height="1"/>
<rect x="1532" y="311" width="2" height="1"/>
<rect x="1532" y="360" width="2" height="1"/>
<rect x="1532" y="409" width="2" height="1"/>
<rect x="1532" y="458" width="2" height="1"/>
<rect x="1532" y="507" width="2" height="1"/>
<rect x="1532" y="530" width="1" height="1"/>
<rect x="1532" y="693" width="1" height="1"/>
<rect x="4" y="695" width="1" height="3"/>
<rect x="100" y="695" width="1" height="3"/>
<rect x="196" y="695" width="1" height="3"/>
<rect x="292" y="695" width="1" height="3"/>
<rect x="388" y="695" width="1" height="3"/>
<rect x="484" y="695" width="1" height="3"/>
<rect x="580" y="695" width="1" height="3"/>
<rect x="676" y="695" width="1" height="3"/>
<rect x="772" y="695" width="1" height="3"/>
<rect x="868" y="695" width="1" height="3"/>
<rect x="964" y="695" width="1" height="3"/>
<rect x="1060" y="695" width="1" height="3"/>
<rect x="1156" y="695" width="1" height="3"/>
<rect x="1533" y="335" width="55" height="14"/>
</g>
<path fill="#ffffff" d="M6.7 13.9H16.3L11.5 19.6z"/>
<text x="22.0" y="21.0" font-size="12.5" fill="#ffffff" textLength="73.2" lengthAdjust="spacingAndGlyphs">EURUSD,Daily</text>
<text x="1538.5" y="21.8" font-size="12.3" fill="#ffffff" textLength="45.0" lengthAdjust="spacingAndGlyphs">1.18245</text>
<text x="1538.5" y="70.8" font-size="12.3" fill="#ffffff" textLength="45.0" lengthAdjust="spacingAndGlyphs">1.15995</text>
<text x="1538.5" y="119.8" font-size="12.3" fill="#ffffff" textLength="45.0" lengthAdjust="spacingAndGlyphs">1.13700</text>
<text x="1538.5" y="168.8" font-size="12.3" fill="#ffffff" textLength="45.0" lengthAdjust="spacingAndGlyphs">1.11450</text>
<text x="1538.5" y="217.8" font-size="12.3" fill="#ffffff" textLength="45.0" lengthAdjust="spacingAndGlyphs">1.09200</text>
<text x="1538.5" y="266.8" font-size="12.3" fill="#ffffff" textLength="45.0" lengthAdjust="spacingAndGlyphs">1.06950</text>
<text x="1538.5" y="315.8" font-size="12.3" fill="#ffffff" textLength="45.0" lengthAdjust="spacingAndGlyphs">1.04700</text>
<text x="1538.5" y="364.8" font-size="12.3" fill="#ffffff" textLength="45.0" lengthAdjust="spacingAndGlyphs">1.02405</text>
<text x="1538.5" y="413.8" font-size="12.3" fill="#ffffff" textLength="45.0" lengthAdjust="spacingAndGlyphs">1.00155</text>
<text x="1538.5" y="462.8" font-size="12.3" fill="#ffffff" textLength="45.0" lengthAdjust="spacingAndGlyphs">0.97905</text>
<text x="1538.5" y="511.8" font-size="12.3" fill="#ffffff" textLength="45.0" lengthAdjust="spacingAndGlyphs">0.95655</text>
<text x="1538.5" y="346.6" font-size="12.3" fill="#000000" textLength="45.0" lengthAdjust="spacingAndGlyphs">1.03233</text>
<text x="1535.2" y="541.8" font-size="12.3" fill="#ffffff" textLength="45.3" lengthAdjust="spacingAndGlyphs">65.7982</text>
<text x="1535.6" y="690.8" font-size="12.3" fill="#ffffff" textLength="44.8" lengthAdjust="spacingAndGlyphs">27.6668</text>
<text x="12.6" y="544.0" font-size="12.3" fill="#ffffff" textLength="24.1" lengthAdjust="spacingAndGlyphs">QQE</text>
<text x="41.8" y="544.0" font-size="12.3" fill="#ffffff" textLength="9.4" lengthAdjust="spacingAndGlyphs">of</text>
<text x="56.7" y="544.0" font-size="12.3" fill="#ffffff">:</text>
<text x="68.5" y="544.0" font-size="12.3" fill="#ffffff" textLength="55.4" lengthAdjust="spacingAndGlyphs">Smoothed</text>
<text x="128.9" y="544.0" font-size="12.3" fill="#ffffff" textLength="32.3" lengthAdjust="spacingAndGlyphs">MA,rsi</text>
<text x="165.6" y="544.0" font-size="12.3" fill="#ffffff" textLength="33.8" lengthAdjust="spacingAndGlyphs">(5,14)</text>
<text x="204.4" y="544.0" font-size="12.3" fill="#ffffff" textLength="44.8" lengthAdjust="spacingAndGlyphs">64.0650</text>
<text x="254.3" y="544.0" font-size="12.3" fill="#ffffff" textLength="45.3" lengthAdjust="spacingAndGlyphs">59.1185</text>
<text x="3.2" y="710.0" font-size="12.3" fill="#ffffff" textLength="69.8" lengthAdjust="spacingAndGlyphs">21 Sep 2021</text>
<text x="99.5" y="710.0" font-size="12.3" fill="#ffffff" textLength="68.8" lengthAdjust="spacingAndGlyphs">25 Oct 2021</text>
<text x="195.3" y="710.0" font-size="12.3" fill="#ffffff" textLength="69.7" lengthAdjust="spacingAndGlyphs">26 Nov 2021</text>
<text x="291.2" y="710.0" font-size="12.3" fill="#ffffff" textLength="70.3" lengthAdjust="spacingAndGlyphs">30 Dec 2021</text>
<text x="387.2" y="710.0" font-size="12.3" fill="#ffffff" textLength="62.6" lengthAdjust="spacingAndGlyphs">2 Feb 2022</text>
<text x="483.3" y="710.0" font-size="12.3" fill="#ffffff" textLength="61.7" lengthAdjust="spacingAndGlyphs">8 Mar 2022</text>
<text x="579.6" y="710.0" font-size="12.3" fill="#ffffff" textLength="68.2" lengthAdjust="spacingAndGlyphs">11 Apr 2022</text>
<text x="675.4" y="710.0" font-size="12.3" fill="#ffffff" textLength="70.3" lengthAdjust="spacingAndGlyphs">13 May 2022</text>
<text x="771.5" y="710.0" font-size="12.3" fill="#ffffff" textLength="68.6" lengthAdjust="spacingAndGlyphs">16 Jun 2022</text>
<text x="867.4" y="710.0" font-size="12.3" fill="#ffffff" textLength="63.4" lengthAdjust="spacingAndGlyphs">20 Jul 2022</text>
<text x="963.2" y="710.0" font-size="12.3" fill="#ffffff" textLength="71.9" lengthAdjust="spacingAndGlyphs">23 Aug 2022</text>
<text x="1059.3" y="710.0" font-size="12.3" fill="#ffffff" textLength="70.1" lengthAdjust="spacingAndGlyphs">26 Sep 2022</text>
<text x="1155.4" y="710.0" font-size="12.3" fill="#ffffff" textLength="69.2" lengthAdjust="spacingAndGlyphs">28 Oct 2022</text>
<path shape-rendering="crispEdges" fill="#e6e2d2" d="M1472 22h38v1h1v18h-1v1h-38v-1h-1v-18h1z"/>
<rect shape-rendering="crispEdges" x="1472" y="23" width="38" height="18" fill="#0000e8"/>
<text x="1474.6" y="36.9" font-size="13.6" fill="#ffffff" textLength="31.6" lengthAdjust="spacingAndGlyphs">Show</text>
<g shape-rendering="crispEdges">
<rect x="0" y="718" width="1588" height="2" fill="#ffffff"/>
<rect x="0" y="720" width="1588" height="1" fill="#000000"/>
<rect x="0" y="721" width="1588" height="1" fill="#fdfdfd"/>
<rect x="0" y="722" width="1588" height="23" fill="#f0f0f0"/>
<rect x="0" y="745" width="1588" height="1" fill="#ffffff"/>
<rect x="0" y="746" width="1588" height="4" fill="#f0f0f0"/>
<rect x="0" y="750" width="1588" height="1" fill="#a5a5a5"/>
<rect x="0" y="751" width="1588" height="2" fill="#f6f6f6"/>
<rect x="1570" y="751" width="1" height="2" fill="#c8c8c8"/>
<rect x="0" y="721" width="1" height="23" fill="#646464"/>
<rect x="1" y="721" width="1" height="23" fill="#ffffff"/>
<rect x="122" y="723" width="1" height="19" fill="#5a5a5a"/>
<rect x="466" y="723" width="1" height="19" fill="#5a5a5a"/>
<rect x="237" y="721" width="1" height="23" fill="#ffffff"/>
<rect x="238" y="718" width="120" height="26" fill="#ffffff"/>
<rect x="238" y="720" width="1" height="24" fill="#000000"/>
<rect x="357" y="720" width="1" height="24" fill="#000000"/>
<rect x="238" y="743" width="120" height="1" fill="#000000"/>
<rect x="358" y="721" width="1" height="24" fill="#8c8c8c"/>
<rect x="239" y="744" width="120" height="1" fill="#8c8c8c"/>
</g>
<text x="20.5" y="738.0" font-size="15.8" fill="#6e6e6e" textLength="87.5" lengthAdjust="spacingAndGlyphs">EURUSD,M30</text>
<text x="136.8" y="738.0" font-size="15.8" fill="#6e6e6e" textLength="86.6" lengthAdjust="spacingAndGlyphs">EURUSD,M15</text>
<text x="251.6" y="738.0" font-size="15.8" fill="#000000" textLength="92.1" lengthAdjust="spacingAndGlyphs">EURUSD,Daily</text>
<text x="373.7" y="738.0" font-size="15.8" fill="#6e6e6e" textLength="76.7" lengthAdjust="spacingAndGlyphs">[NQ100],M1</text>
<path fill="#a8a8a8" d="M1556 731L1560.6 726.8V735.2z"/>
<path fill="#a8a8a8" d="M1585.2 731L1580.6 726.8V735.2z"/>
</svg></body></html>
